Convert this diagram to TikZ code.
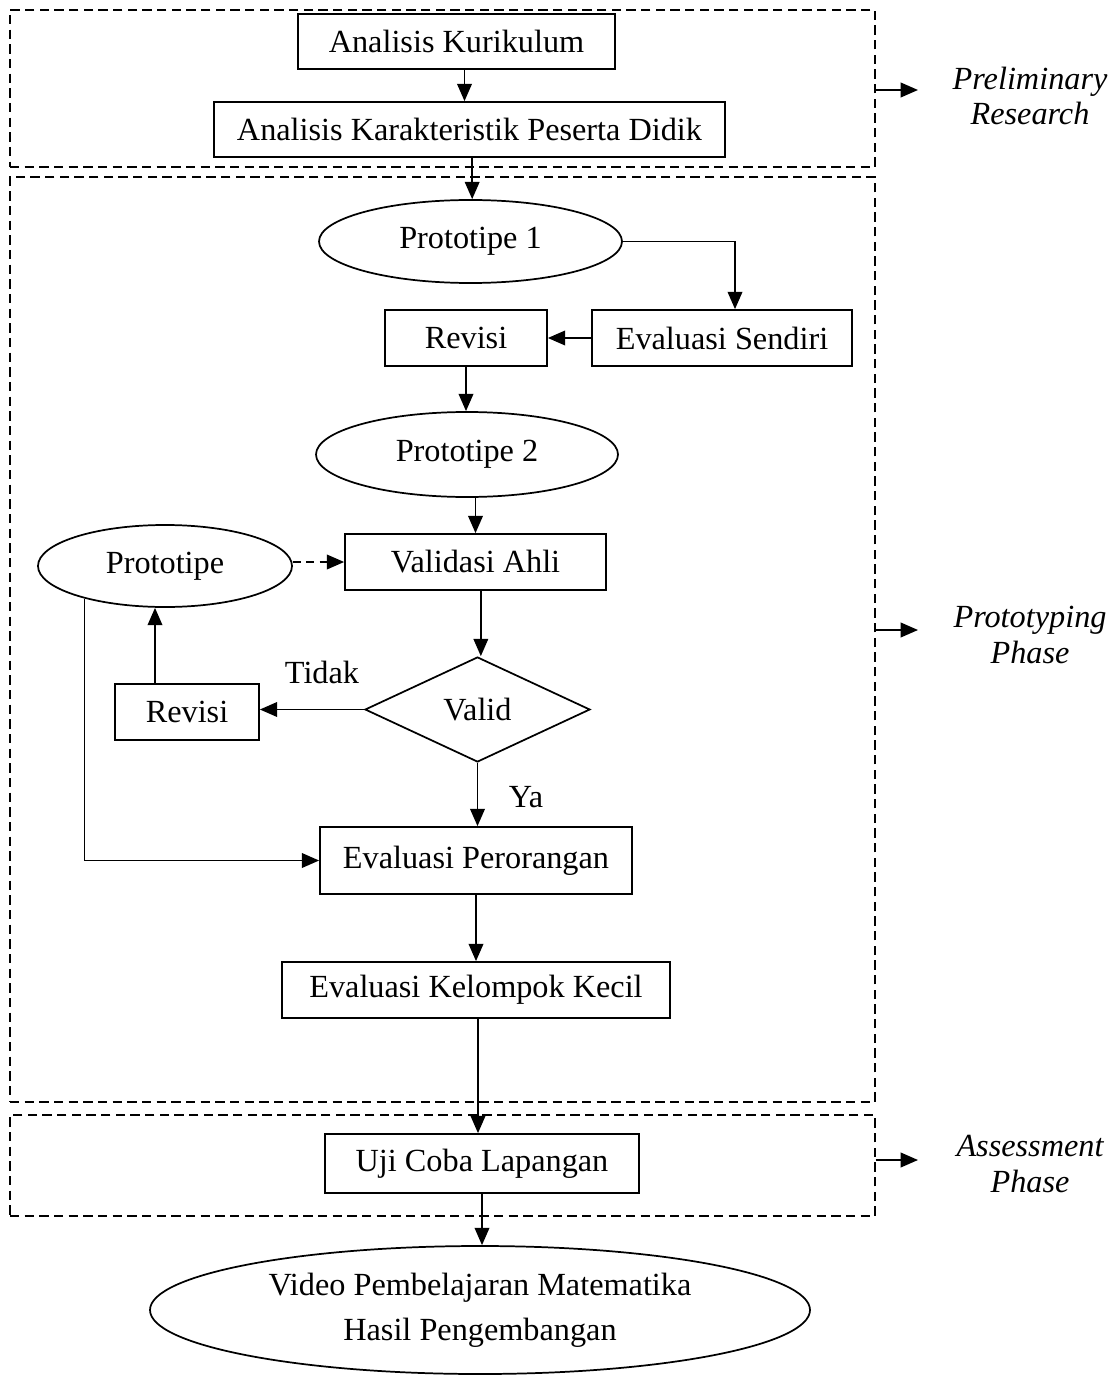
\documentclass[tikz,border=0pt]{standalone}
\usepackage{fontspec}
\setmainfont{Liberation Serif}
\usetikzlibrary{shapes.geometric,arrows.meta}
\begin{document}
\begin{tikzpicture}[x=0.75pt,y=-0.75pt,
  font=\fontsize{24.2}{27}\selectfont,
  box/.style={draw,line width=1.3pt,inner sep=0pt,align=center},
  ell/.style={draw,ellipse,line width=1.3pt,inner sep=0pt,align=center},
  dia/.style={draw,diamond,line width=1.3pt,inner sep=0pt},
  sz/.style 2 args={minimum width=#1*0.75pt,minimum height=#2*0.75pt},
  grp/.style={draw,dash pattern=on 7pt off 4pt,line width=1.1pt,inner sep=0pt},
  arr/.style={line width=1.3pt,-{Triangle[length=13pt,width=11pt]}},
  lbl/.style={inner sep=0pt,align=center,font=\fontsize{24.2}{26.5}\selectfont\itshape},
  txt/.style={inner sep=0pt}]
\useasboundingbox (0,0) rectangle (1115,1376);

% groups
\node[grp,sz={865}{157}] (g1) at (442.5,88.5) {};
\node[grp,sz={865}{925}] (g2) at (442.5,639.5) {};
\node[grp,sz={865}{101}] (g3) at (442.5,1165.5) {};

% nodes
\node[box,sz={317}{55}] (ak) at (456.5,41.5) {Analisis Kurikulum};
\node[box,sz={511}{55}] (akp) at (469.5,129.5) {Analisis Karakteristik Peserta Didik};
\node[ell,sz={303}{83}] (p1) at (470.5,241.5) {Prototipe 1};
\node[box,sz={260}{56}] (es) at (722,338) {Evaluasi Sendiri};
\node[box,sz={162}{56}] (rv1) at (466,338) {Revisi};
\node[ell,sz={302}{85}] (p2) at (467,454.5) {Prototipe 2};
\node[box,sz={261}{56}] (va) at (475.5,562) {Validasi Ahli};
\node[ell,sz={254}{82}] (pl) at (165,566) {Prototipe};
\node[dia,sz={225}{105}] (valid) at (477.5,709.5) {Valid};
\node[box,sz={144}{56}] (rv2) at (187,712) {Revisi};
\node[box,sz={312}{67}] (ep) at (476,860.5) {Evaluasi Perorangan};
\node[box,sz={388}{56}] (ekk) at (476,990) {Evaluasi Kelompok Kecil};
\node[box,sz={314}{59}] (ucl) at (482,1163.5) {Uji Coba Lapangan};
\node[ell,sz={660}{128},font=\fontsize{24.2}{34}\selectfont] (fin) at (480,1310) {Video Pembelajaran Matematika\\Hasil Pengembangan};

\node[txt] (tidak) at (322,672) {Tidak};
\node[txt] (ya) at (526,797) {Ya};

% side labels
\node[lbl] (l1) at (1030,96) {Preliminary\\Research};
\node[lbl] (l2) at (1030,635) {Prototyping\\Phase};
\node[lbl] (l3) at (1030,1164) {Assessment\\Phase};
\coordinate (c1) at (918,90);
\coordinate (c2) at (918,630);
\coordinate (c3) at (918,1160);
\draw[arr] (g1.east |- c1) -- (c1);
\draw[arr] (g2.east |- c2) -- (c2);
\draw[arr] (g3.east |- c3) -- (c3);

% connectors
\draw[arr] ([xshift=6pt]ak.south) -- ([xshift=6pt]ak.south |- akp.north);
\draw[arr] ([xshift=2pt]akp.south) -- ([xshift=2pt]akp.south |- p1.north);
\draw[arr] (p1.east) -| ([xshift=9.75pt]es.north);
\draw[arr] (es.west) -- (rv1.east);
\draw[arr] (rv1.south) -- (rv1.south |- p2.north);
\draw[arr] (va.north |- p2.south) -- (va.north);
\draw[arr,dash pattern=on 6pt off 4pt] (pl.east |- va.west) -- (va.west);
\draw[arr] ([xshift=4pt]va.south) -- ([xshift=4pt]va.south |- valid.north);
\draw[arr] (valid.west) -- (valid.west -| rv2.east);
\draw[arr] ([xshift=-24pt]rv2.north) -- ([xshift=-24pt]rv2.north |- pl.south);
\draw[arr] (pl.202) |- (ep.west);
\draw[arr] (valid.south) -- (valid.south |- ep.north);
\draw[arr] (ep.south) -- (ep.south |- ekk.north);
\draw[arr] ([xshift=1.5pt]ekk.south) -- ([xshift=1.5pt]ekk.south |- ucl.north);
\draw[arr] (ucl.south) -- (ucl.south |- fin.north);
\end{tikzpicture}
\end{document}
